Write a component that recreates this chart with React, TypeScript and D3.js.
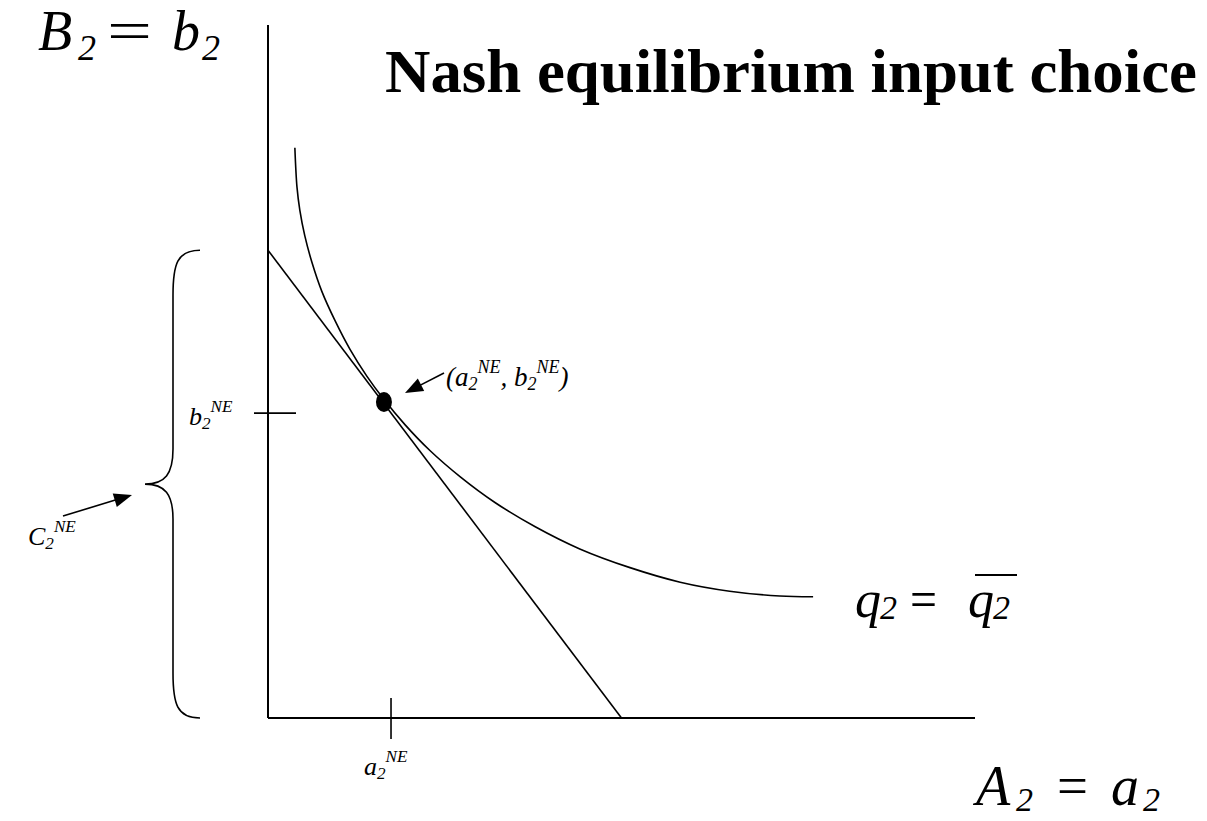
import React from "react";
import * as d3 from "d3";

// Axis domains (input quantities of A and B)
const aDomain = [0, 10];
const bDomain = [0, 10];

// Isoquant q2 = q̄2: input combinations (a2, b2)
const isoquantA = [0.38, 0.41, 0.45, 0.52, 0.62, 0.76, 0.95, 1.16, 1.4, 1.63, 1.94, 2.29, 2.72, 3.21, 3.78, 4.41, 5.12, 5.83, 6.53, 7.24, 7.71];
const isoquantB = [8.23, 7.66, 7.33, 6.96, 6.58, 6.16, 5.73, 5.32, 4.93, 4.61, 4.23, 3.86, 3.48, 3.11, 2.76, 2.44, 2.17, 1.96, 1.83, 1.76, 1.75];

// Isocost line end points (intercepts on both axes)
const isocostA = [0, 5.0];
const isocostB = [6.75, 0];

// Nash equilibrium input choice and its axis ticks
const equilibrium = [1.64, 4.56];
const tickA = [1.74];
const tickB = [4.4];

const W = 1207;
const H = 821;
const FONT = "'Liberation Serif', 'Times New Roman', serif";

const x = d3.scaleLinear().domain(aDomain).range([268, 975]);
const y = d3.scaleLinear().domain(bDomain).range([718, 25]);

function arrowHead(x1: number, y1: number, x2: number, y2: number, len = 18, half = 7) {
  const dx = x2 - x1;
  const dy = y2 - y1;
  const d = Math.hypot(dx, dy);
  const ux = dx / d;
  const uy = dy / d;
  const bx = x2 - ux * len;
  const by = y2 - uy * len;
  return `${x2},${y2} ${bx - uy * half},${by + ux * half} ${bx + uy * half},${by - ux * half}`;
}

function Arrow({ x1, y1, x2, y2 }: { x1: number; y1: number; x2: number; y2: number }) {
  const d = Math.hypot(x2 - x1, y2 - y1);
  const ex = x2 - ((x2 - x1) / d) * 14;
  const ey = y2 - ((y2 - y1) / d) * 14;
  return (
    <g>
      <line x1={x1} y1={y1} x2={ex} y2={ey} stroke="#000" strokeWidth={1.6} />
      <polygon points={arrowHead(x1, y1, x2, y2)} fill="#000" />
    </g>
  );
}

// Label of the form base_sub^sup, e.g. b2^NE
function SubSup({ x0, y0, base, sub, sup, size = 26 }: { x0: number; y0: number; base: string; sub: string; sup: string; size?: number }) {
  const s = size * 0.66;
  return (
    <text x={x0} y={y0} fontFamily={FONT} fontStyle="italic" fontSize={size}>
      <tspan>{base}</tspan>
      <tspan fontSize={s} dy={4}>{sub}</tspan>
      <tspan fontSize={s} dy={-17}>{sup}</tspan>
    </text>
  );
}

export default function App() {
  const curve = d3
    .line<number>()
    .x((_, i) => x(isoquantA[i]))
    .y((_, i) => y(isoquantB[i]))
    .curve(d3.curveCatmullRom.alpha(0.5));
  const isoquantPath = curve(isoquantA) || "";

  // Brace spanning total cost on the B axis (from the isocost intercept down to 0)
  const bTop = y(isocostB[0]);
  const bBot = y(0);
  const bMid = (bTop + bBot) / 2;
  const xe = 200;
  const xv = 173;
  const xc = 145;
  const bp = d3.path();
  bp.moveTo(xe, bTop);
  bp.bezierCurveTo(xv + 4, bTop, xv, bTop + 14, xv, bTop + 45);
  bp.lineTo(xv, bMid - 35);
  bp.bezierCurveTo(xv, bMid - 10, xv - 8, bMid, xc, bMid);
  bp.bezierCurveTo(xv - 8, bMid, xv, bMid + 10, xv, bMid + 35);
  bp.lineTo(xv, bBot - 45);
  bp.bezierCurveTo(xv, bBot - 14, xv + 4, bBot, xe, bBot);

  const ex = x(equilibrium[0]);
  const ey = y(equilibrium[1]);

  return (
    <svg width={W} height={H} style={{ position: "absolute", left: 0, top: 0, background: "#fff" }}>
      <rect x={0} y={0} width={W} height={H} fill="#fff" />

      {/* axes */}
      <line x1={x(0)} y1={y(bDomain[1])} x2={x(0)} y2={y(0)} stroke="#000" strokeWidth={2} />
      <line x1={x(0)} y1={y(0)} x2={x(aDomain[1])} y2={y(0)} stroke="#000" strokeWidth={2} />

      {/* ticks at the equilibrium quantities */}
      {tickB.map((v) => (
        <line key={"tb" + v} x1={x(0) - 14} x2={x(0) + 28} y1={y(v)} y2={y(v)} stroke="#000" strokeWidth={1.6} />
      ))}
      {tickA.map((v) => (
        <line key={"ta" + v} x1={x(v)} x2={x(v)} y1={y(0) - 20} y2={y(0) + 21} stroke="#000" strokeWidth={1.6} />
      ))}

      {/* isocost line */}
      <line x1={x(isocostA[0])} y1={y(isocostB[0])} x2={x(isocostA[1])} y2={y(isocostB[1])} stroke="#000" strokeWidth={1.6} />

      {/* isoquant */}
      <path d={isoquantPath} fill="none" stroke="#000" strokeWidth={1.6} />

      {/* equilibrium point */}
      <ellipse cx={ex} cy={ey} rx={8} ry={10} fill="#000" />

      {/* brace */}
      <path d={bp.toString()} fill="none" stroke="#000" strokeWidth={1.6} />

      {/* arrows */}
      <Arrow x1={444} y1={373} x2={405} y2={393} />
      <Arrow x1={63} y1={516} x2={132} y2={495} />

      {/* title */}
      <text x={385} y={92} fontFamily={FONT} fontWeight="bold" fontSize={62} textLength={812} lengthAdjust="spacingAndGlyphs">
        Nash equilibrium input choice
      </text>

      {/* axis names */}
      <g fontFamily={FONT} fontStyle="italic">
        <text x={38} y={50} fontSize={56}>B</text>
        <text x={78} y={60} fontSize={36}>2</text>
        <text x={107} y={50} fontSize={56} fontStyle="normal" textLength={45} lengthAdjust="spacingAndGlyphs">=</text>
        <text x={172} y={50} fontSize={56}>b</text>
        <text x={202} y={60} fontSize={36}>2</text>

        <text x={976} y={805} fontSize={56}>A</text>
        <text x={1016} y={811} fontSize={34}>2</text>
        <text x={1057} y={805} fontSize={56} fontStyle="normal" textLength={31} lengthAdjust="spacingAndGlyphs">=</text>
        <text x={1111} y={805} fontSize={56}>a</text>
        <text x={1143} y={811} fontSize={34}>2</text>

        <text x={855} y={617} fontSize={52}>q</text>
        <text x={880} y={619} fontSize={34}>2</text>
        <text x={910} y={617} fontSize={52} fontStyle="normal" textLength={27} lengthAdjust="spacingAndGlyphs">=</text>
        <text x={968} y={617} fontSize={52}>q</text>
        <text x={993} y={619} fontSize={34}>2</text>
      </g>
      <line x1={975} x2={1017} y1={575} y2={575} stroke="#000" strokeWidth={2} />

      {/* point and tick labels */}
      <SubSup x0={189} y0={425} base="b" sub="2" sup="NE" />
      <SubSup x0={364} y0={775} base="a" sub="2" sup="NE" />
      <SubSup x0={28} y0={545} base="C" sub="2" sup="NE" />
      <text x={446} y={386} fontFamily={FONT} fontStyle="italic" fontSize={27}>
        <tspan>(a</tspan>
        <tspan fontSize={18} dy={4}>2</tspan>
        <tspan fontSize={18} dy={-17}>NE</tspan>
        <tspan dy={13}>, b</tspan>
        <tspan fontSize={18} dy={4}>2</tspan>
        <tspan fontSize={18} dy={-17}>NE</tspan>
        <tspan dy={13}>)</tspan>
      </text>
    </svg>
  );
}
